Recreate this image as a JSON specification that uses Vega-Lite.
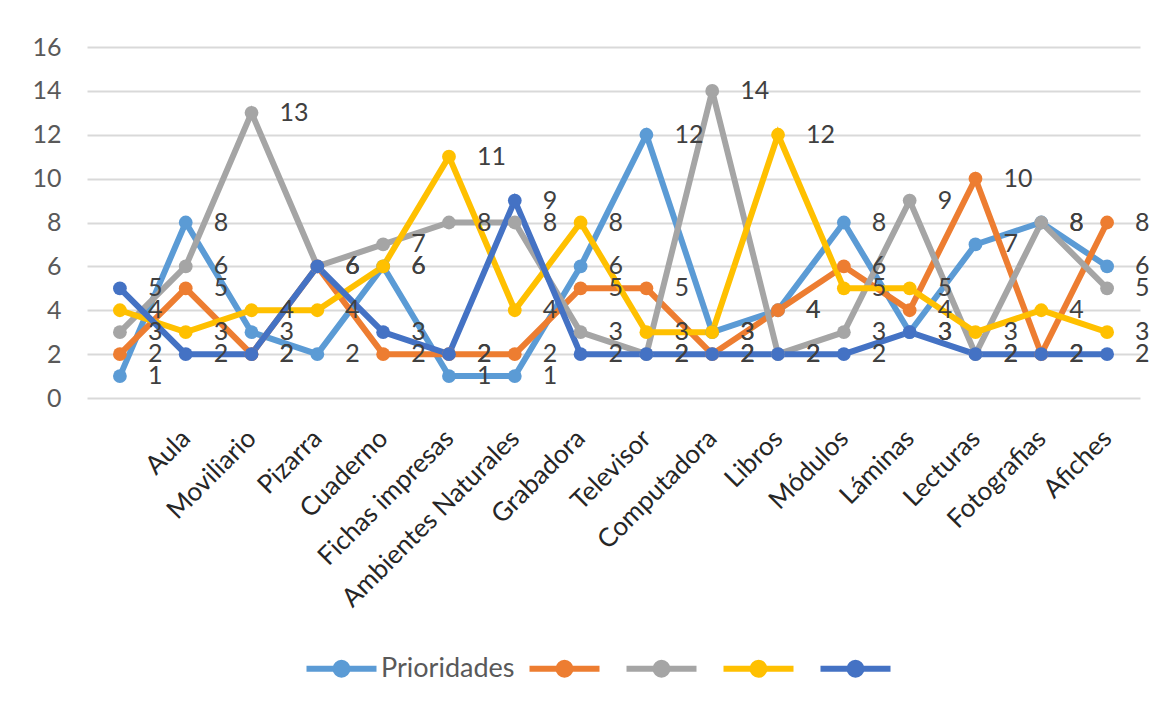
{
  "$schema": "https://vega.github.io/schema/vega-lite/v6.json",
  "width": 1053,
  "height": 351,
  "autosize": {"type": "none"},
  "padding": {"left": 87, "top": 47, "right": 29, "bottom": 311},
  "background": "white",
  "config": {"view": {"stroke": null}, "font": "Lato"},
  "data": {"values": [
    {"c": " ", "s": "Prioridades", "v": 1}, {"c": "Aula", "s": "Prioridades", "v": 8}, {"c": "Moviliario", "s": "Prioridades", "v": 3}, {"c": "Pizarra", "s": "Prioridades", "v": 2}, {"c": "Cuaderno", "s": "Prioridades", "v": 6}, {"c": "Fichas impresas", "s": "Prioridades", "v": 1}, {"c": "Ambientes Naturales", "s": "Prioridades", "v": 1}, {"c": "Grabadora", "s": "Prioridades", "v": 6}, {"c": "Televisor", "s": "Prioridades", "v": 12}, {"c": "Computadora", "s": "Prioridades", "v": 3}, {"c": "Libros", "s": "Prioridades", "v": 4}, {"c": "Módulos", "s": "Prioridades", "v": 8}, {"c": "Láminas", "s": "Prioridades", "v": 3}, {"c": "Lecturas", "s": "Prioridades", "v": 7}, {"c": "Fotografias", "s": "Prioridades", "v": 8}, {"c": "Afiches", "s": "Prioridades", "v": 6},
    {"c": " ", "s": "S2", "v": 2}, {"c": "Aula", "s": "S2", "v": 5}, {"c": "Moviliario", "s": "S2", "v": 2}, {"c": "Pizarra", "s": "S2", "v": 6}, {"c": "Cuaderno", "s": "S2", "v": 2}, {"c": "Fichas impresas", "s": "S2", "v": 2}, {"c": "Ambientes Naturales", "s": "S2", "v": 2}, {"c": "Grabadora", "s": "S2", "v": 5}, {"c": "Televisor", "s": "S2", "v": 5}, {"c": "Computadora", "s": "S2", "v": 2}, {"c": "Libros", "s": "S2", "v": 4}, {"c": "Módulos", "s": "S2", "v": 6}, {"c": "Láminas", "s": "S2", "v": 4}, {"c": "Lecturas", "s": "S2", "v": 10}, {"c": "Fotografias", "s": "S2", "v": 2}, {"c": "Afiches", "s": "S2", "v": 8},
    {"c": " ", "s": "S3", "v": 3}, {"c": "Aula", "s": "S3", "v": 6}, {"c": "Moviliario", "s": "S3", "v": 13}, {"c": "Pizarra", "s": "S3", "v": 6}, {"c": "Cuaderno", "s": "S3", "v": 7}, {"c": "Fichas impresas", "s": "S3", "v": 8}, {"c": "Ambientes Naturales", "s": "S3", "v": 8}, {"c": "Grabadora", "s": "S3", "v": 3}, {"c": "Televisor", "s": "S3", "v": 2}, {"c": "Computadora", "s": "S3", "v": 14}, {"c": "Libros", "s": "S3", "v": 2}, {"c": "Módulos", "s": "S3", "v": 3}, {"c": "Láminas", "s": "S3", "v": 9}, {"c": "Lecturas", "s": "S3", "v": 2}, {"c": "Fotografias", "s": "S3", "v": 8}, {"c": "Afiches", "s": "S3", "v": 5},
    {"c": " ", "s": "S4", "v": 4}, {"c": "Aula", "s": "S4", "v": 3}, {"c": "Moviliario", "s": "S4", "v": 4}, {"c": "Pizarra", "s": "S4", "v": 4}, {"c": "Cuaderno", "s": "S4", "v": 6}, {"c": "Fichas impresas", "s": "S4", "v": 11}, {"c": "Ambientes Naturales", "s": "S4", "v": 4}, {"c": "Grabadora", "s": "S4", "v": 8}, {"c": "Televisor", "s": "S4", "v": 3}, {"c": "Computadora", "s": "S4", "v": 3}, {"c": "Libros", "s": "S4", "v": 12}, {"c": "Módulos", "s": "S4", "v": 5}, {"c": "Láminas", "s": "S4", "v": 5}, {"c": "Lecturas", "s": "S4", "v": 3}, {"c": "Fotografias", "s": "S4", "v": 4}, {"c": "Afiches", "s": "S4", "v": 3},
    {"c": " ", "s": "S5", "v": 5}, {"c": "Aula", "s": "S5", "v": 2}, {"c": "Moviliario", "s": "S5", "v": 2}, {"c": "Pizarra", "s": "S5", "v": 6}, {"c": "Cuaderno", "s": "S5", "v": 3}, {"c": "Fichas impresas", "s": "S5", "v": 2}, {"c": "Ambientes Naturales", "s": "S5", "v": 9}, {"c": "Grabadora", "s": "S5", "v": 2}, {"c": "Televisor", "s": "S5", "v": 2}, {"c": "Computadora", "s": "S5", "v": 2}, {"c": "Libros", "s": "S5", "v": 2}, {"c": "Módulos", "s": "S5", "v": 2}, {"c": "Láminas", "s": "S5", "v": 3}, {"c": "Lecturas", "s": "S5", "v": 2}, {"c": "Fotografias", "s": "S5", "v": 2}, {"c": "Afiches", "s": "S5", "v": 2}
  ]},
  "encoding": {
    "x": {
      "field": "c", "type": "nominal",
      "sort": [" ", "Aula", "Moviliario", "Pizarra", "Cuaderno", "Fichas impresas", "Ambientes Naturales", "Grabadora", "Televisor", "Computadora", "Libros", "Módulos", "Láminas", "Lecturas", "Fotografias", "Afiches"],
      "scale": {"type": "point", "padding": 0.5},
      "axis": {
        "title": null, "domain": false, "ticks": false, "grid": false,
        "labelAngle": -45, "labelAlign": "right", "labelBaseline": "middle",
        "labelPadding": 36, "labelFontSize": 26, "labelColor": "#262626", "labelFont": "Lato",
        "labelOverlap": false, "labelLimit": 400
      }
    },
    "y": {
      "field": "v", "type": "quantitative",
      "scale": {"domain": [0, 16], "nice": false},
      "axis": {
        "title": null, "domain": false, "ticks": false,
        "values": [0, 2, 4, 6, 8, 10, 12, 14, 16],
        "grid": true, "gridColor": "#d9d9d9", "gridWidth": 2,
        "labelFontSize": 25, "labelColor": "#595959", "labelPadding": 26, "labelFont": "Lato"
      }
    },
    "color": {
      "field": "s", "type": "nominal",
      "scale": {"domain": ["Prioridades", "S2", "S3", "S4", "S5"], "range": ["#5B9BD5", "#ED7D31", "#A5A5A5", "#FFC000", "#4472C4"]},
      "legend": {
        "title": null, "orient": "none", "legendX": 241, "legendY": 608,
        "direction": "horizontal", "padding": 0,
        "symbolType": "M-3.5,0H3.5M0.6,0A0.6,0.6 0 1 1 -0.6,0A0.6,0.6 0 1 1 0.6,0Z",
        "symbolSize": 400, "symbolStrokeWidth": 6,
        "labelExpr": "datum.label == 'Prioridades' ? 'Prioridades' : ''",
        "labelFontSize": 27, "labelColor": "#595959", "labelFont": "Lato",
        "labelOffset": 26, "columnPadding": 2,
        "encode": {"symbols": {"update": {"fill": {"scale": "color", "field": "value"}, "stroke": {"scale": "color", "field": "value"}, "opacity": {"value": 1}}}}
      }
    }
  },
  "layer": [
    {"mark": {"type": "line", "strokeWidth": 6}},
    {"mark": {"type": "point", "filled": true, "size": 190, "opacity": 1}},
    {
      "mark": {"type": "text", "align": "left", "baseline": "middle", "dx": 28, "fontSize": 25, "font": "Lato"},
      "encoding": {"text": {"field": "v"}, "color": {"value": "#404040"}}
    }
  ]
}
